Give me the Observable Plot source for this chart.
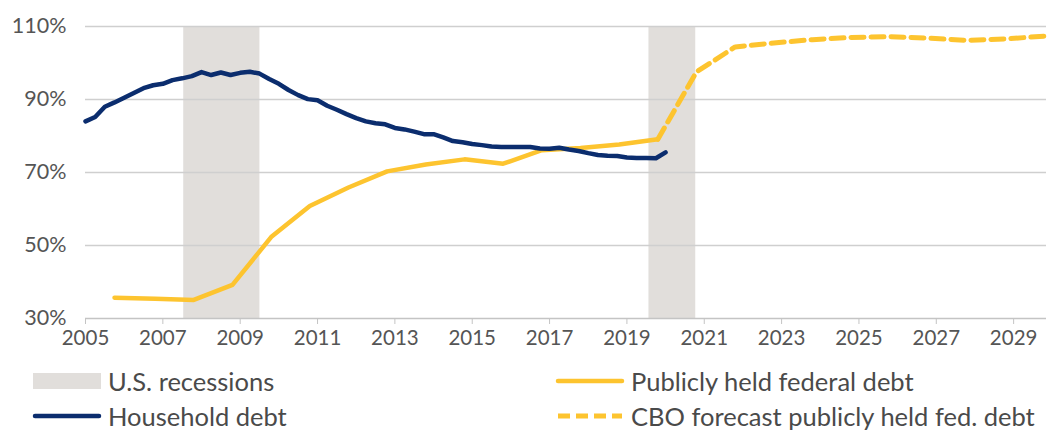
<!DOCTYPE html>
<html>
<head>
<meta charset="utf-8">
<script src="https://cdn.jsdelivr.net/npm/d3@7"></script>
<script src="https://cdn.jsdelivr.net/npm/@observablehq/plot@0.6"></script>
<style>
  body { margin: 0; background: #fff; font-family: Lato, "Open Sans", sans-serif; }
  #wrap { width: 1049px; }
  .legend { position: relative; height: 72px; font-size: 25.5px; color: #4a4a4a; }
  .item { position: absolute; display: flex; align-items: center; height: 30px; white-space: nowrap; }
  .item svg { margin-right: 6px; }
</style>
</head>
<body>
<div id="wrap">
  <div id="chart"></div>
  <div class="legend" id="legend"></div>
</div>
<script>
// ---------- data ----------
const householdStart = 2005.0;   // quarterly series, first quarter
const householdDebt = [
  84.0, 85.2, 88.0, 89.2, 90.5, 91.8, 93.1, 93.9, 94.3, 95.3, 95.8, 96.4,
  97.5, 96.7, 97.4, 96.7, 97.3, 97.6, 97.1, 95.6, 94.3, 92.6, 91.2, 90.1,
  89.8, 88.3, 87.2, 86.0, 84.9, 84.0, 83.5, 83.2, 82.2, 81.8, 81.2, 80.5,
  80.5, 79.6, 78.6, 78.3, 77.8, 77.5, 77.1, 77.0, 77.0, 77.0, 77.0, 76.6,
  76.5, 76.8, 76.3, 75.9, 75.3, 74.8, 74.6, 74.5, 74.1, 74.0, 74.0, 73.9,
  75.5
];
const publicYears = [2005.75, 2006.8, 2007.8, 2008.8, 2009.8, 2010.8, 2011.8, 2012.8, 2013.8, 2014.8, 2015.8, 2016.8, 2017.8, 2018.8, 2019.8];
const publicDebt  = [35.7, 35.4, 35.1, 39.2, 52.3, 60.8, 65.9, 70.3, 72.2, 73.6, 72.4, 76.1, 76.7, 77.7, 79.1];
const forecastYears = [2019.8, 2020.8, 2021.8, 2022.8, 2023.8, 2024.8, 2025.8, 2026.8, 2027.8, 2028.8, 2029.85];
const forecastDebt  = [79.1, 97.6, 104.4, 105.5, 106.4, 107.0, 107.2, 106.8, 106.2, 106.6, 107.4];
const recessionStart = [2007.54, 2019.57];
const recessionEnd   = [2009.51, 2020.78];
const xTicks = [2005, 2007, 2009, 2011, 2013, 2015, 2017, 2019, 2021, 2023, 2025, 2027, 2029];
const yTicks = [30, 50, 70, 90, 110];
const legendLabels = ["U.S. recessions", "Publicly held federal debt", "Household debt", "CBO forecast publicly held fed. debt"];

// ---------- tables ----------
const household = householdDebt.map((v, i) => ({x: householdStart + i * 0.25, y: v}));
const publicD = publicYears.map((x, i) => ({x, y: publicDebt[i]}));
const forecast = forecastYears.map((x, i) => ({x, y: forecastDebt[i]}));
const recessions = recessionStart.map((s, i) => ({x1: s, x2: recessionEnd[i]}));

const NAVY = "#0b2d6e", GOLD = "#fdc42f", GREY_BAND = "#e1dedb";

const chart = Plot.plot({
  width: 1049,
  height: 358,
  marginTop: 26,
  marginBottom: 40,
  marginLeft: 85,
  marginRight: 3,
  style: {fontFamily: "Lato, 'Open Sans', sans-serif", background: "#fff"},
  x: {domain: [2005, 2029.85]},
  y: {domain: [30, 110]},
  marks: [
    Plot.rectX(recessions, {x1: "x1", x2: "x2", y1: 30, y2: 110, fill: GREY_BAND}),
    Plot.ruleY(yTicks.filter(d => d > 30), {stroke: "#cfcfcf", strokeWidth: 1.3}),
    Plot.ruleY([30], {stroke: "#c4c4c4", strokeWidth: 1.5}),
    Plot.axisX({ticks: xTicks, tickFormat: d => String(d), tickSize: 6, tickPadding: 6,
                stroke: "#c4c4c4", fontSize: 20.5, color: "#555", label: null}),
    Plot.axisY({ticks: yTicks, tickFormat: d => d + "%", tickSize: 0, tickPadding: 19,
                fontSize: 21.5, color: "#555", label: null}),
    Plot.line(forecast, {x: "x", y: "y", stroke: GOLD, strokeWidth: 5, strokeDasharray: "13,7"}),
    Plot.line(publicD, {x: "x", y: "y", stroke: GOLD, strokeWidth: 4.5, strokeLinecap: "round"}),
    Plot.line(household, {x: "x", y: "y", stroke: NAVY, strokeWidth: 4.5, strokeLinecap: "round"})
  ]
});
chart.querySelectorAll("text").forEach(t => t.setAttribute("fill", "#555"));
document.getElementById("chart").appendChild(chart);

// ---------- legend ----------
const legend = document.getElementById("legend");
const swatches = [
  `<svg width="70" height="16"><rect x="1" y="0" width="68" height="16" fill="${GREY_BAND}"/></svg>`,
  `<svg width="70" height="16"><line x1="3" x2="67" y1="8" y2="8" stroke="${GOLD}" stroke-width="4.5" stroke-linecap="round"/></svg>`,
  `<svg width="70" height="16"><line x1="3" x2="67" y1="8" y2="8" stroke="${NAVY}" stroke-width="4.5" stroke-linecap="round"/></svg>`,
  `<svg width="70" height="16"><line x1="3" x2="67" y1="8" y2="8" stroke="${GOLD}" stroke-width="5" stroke-dasharray="12,6"/></svg>`
];
const pos = [[32, 8], [555, 8], [32, 43], [555, 43]];
legendLabels.forEach((lab, i) => {
  const d = document.createElement("div");
  d.className = "item";
  d.style.left = pos[i][0] + "px";
  d.style.top = pos[i][1] + "px";
  d.innerHTML = swatches[i] + `<span>${lab}</span>`;
  legend.appendChild(d);
});
</script>
</body>
</html>
